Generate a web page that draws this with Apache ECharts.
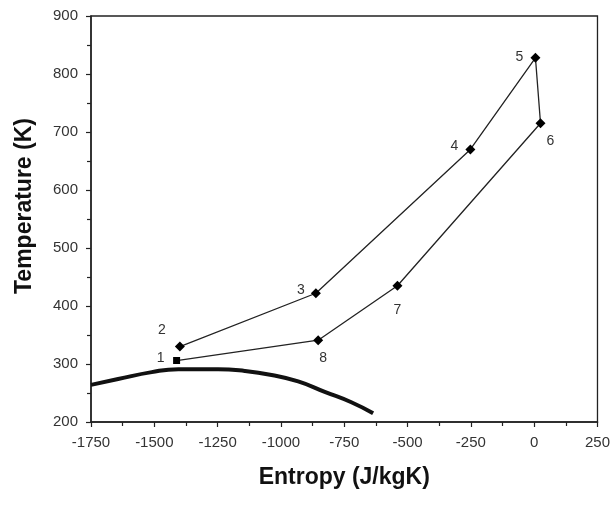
<!DOCTYPE html>
<html>
<head>
<meta charset="utf-8">
<script src="https://cdn.jsdelivr.net/npm/echarts@6/dist/echarts.min.js"></script>
<style>html,body{margin:0;padding:0;background:#fff}#c{width:613px;height:506px}</style>
</head>
<body>
<div id="c"></div>
<script>
// Cycle state points (order of connection: 1 -> 8 -> 7 -> 6 -> 5 -> 4 -> 3 -> 2)
var cycleLabels = ['1', '8', '7', '6', '5', '4', '3', '2'];
var cycleEntropy = [-1412, -853, -540, 25, 5, -252, -862, -1399];
var cycleTemp = [306, 341, 435, 715, 828, 670, 422, 330];

// Saturation dome curve
var domeEntropy = [-1750, -1643, -1510, -1405, -1248, -1143, -1037, -932, -827, -722, -636];
var domeTemp = [264, 274, 286, 291, 291, 288, 281, 270, 252, 234, 215];

var xTicks = { min: -1750, max: 250, step: 250 };
var yTicks = { min: 200, max: 900, step: 100 };
var xTitle = 'Entropy (J/kgK)';
var yTitle = 'Temperature (K)';

// label placement (style only)
var labelPlace = {
  '1': [-16, -2], '2': [-18, -16], '3': [-15, -3], '4': [-16, -3],
  '5': [-16, -1], '6': [10, 18], '7': [0, 24], '8': [5, 18]
};

var cycleData = cycleLabels.map(function (lab, i) {
  return {
    value: [cycleEntropy[i], cycleTemp[i]],
    symbol: lab === '1' ? 'rect' : 'diamond',
    symbolSize: lab === '1' ? 7 : 10,
    label: { show: true, formatter: lab, position: 'inside', offset: labelPlace[lab] }
  };
});
var domeData = domeEntropy.map(function (s, i) { return [s, domeTemp[i]]; });

var axisCol = '#222';
function plain(v) { return String(v); }
var chart = echarts.init(document.getElementById('c'));
chart.setOption({
  animation: false,
  backgroundColor: '#fff',
  grid: { left: 91, right: 15, top: 16, bottom: 84, show: true, borderColor: axisCol, borderWidth: 1.3, backgroundColor: 'transparent' },
  xAxis: {
    type: 'value', min: xTicks.min, max: xTicks.max, interval: xTicks.step,
    name: xTitle, nameLocation: 'middle', nameGap: 44,
    nameTextStyle: { fontFamily: 'Liberation Sans', fontWeight: 'bold', fontSize: 23, color: '#111' },
    axisLine: { show: true, onZero: false, lineStyle: { color: axisCol, width: 1.5 } },
    axisTick: { show: true, inside: false, length: 5, lineStyle: { color: axisCol, width: 1.2 } },
    minorTick: { show: true, splitNumber: 2, length: 4, lineStyle: { color: axisCol, width: 1.2 } },
    axisLabel: { fontFamily: 'Liberation Sans', fontSize: 15, color: '#333', margin: 13, formatter: plain },
    splitLine: { show: false }
  },
  yAxis: {
    type: 'value', min: yTicks.min, max: yTicks.max, interval: yTicks.step,
    name: yTitle, nameLocation: 'middle', nameGap: 55,
    nameTextStyle: { fontFamily: 'Liberation Sans', fontWeight: 'bold', fontSize: 23, color: '#111', padding: [0, 0, 0, 26] },
    axisLine: { show: true, onZero: false, lineStyle: { color: axisCol, width: 1.5 } },
    axisTick: { show: true, inside: false, length: 5, lineStyle: { color: axisCol, width: 1.2 } },
    minorTick: { show: true, splitNumber: 2, length: 4, lineStyle: { color: axisCol, width: 1.2 } },
    axisLabel: { fontFamily: 'Liberation Sans', fontSize: 15, color: '#333', margin: 13, formatter: plain },
    splitLine: { show: false }
  },
  series: [
    {
      type: 'line', data: domeData, smooth: true, symbol: 'none',
      lineStyle: { color: '#111', width: 4 }
    },
    {
      type: 'line', data: cycleData,
      itemStyle: { color: '#000' },
      lineStyle: { color: '#222', width: 1.3 },
      label: { fontFamily: 'Liberation Sans', fontSize: 14, color: '#333' }
    }
  ]
});
</script>
</body>
</html>
